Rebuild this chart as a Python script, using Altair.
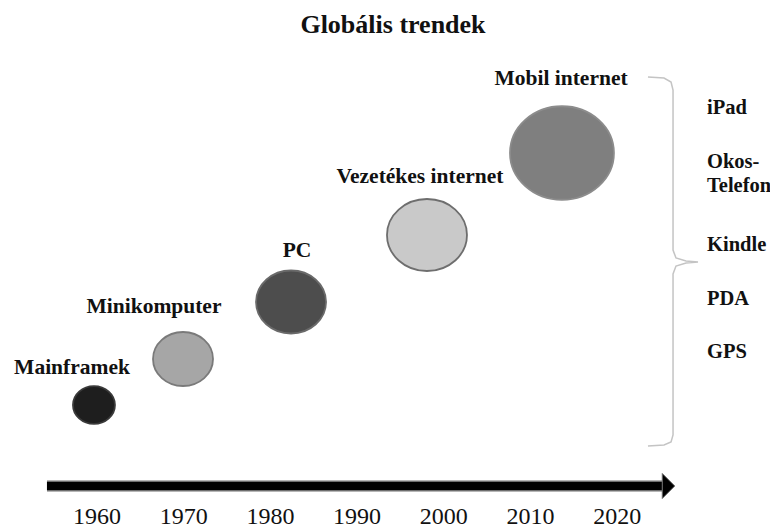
import altair as alt
import pandas as pd

# ---------------- data ----------------
title_text = "Globális trendek"

eras = ["Mainframek", "Minikomputer", "PC", "Vezetékes internet", "Mobil internet"]
era_year = [1959.65, 1969.92, 1982.38, 1998.06, 2013.63]
era_level = [22.46, 31.45, 42.58, 55.66, 71.68]
era_impact = [17.6, 36.0, 49.0, 64.0, 108.0]
label_year = [1957.12, 1966.57, 1983.07, 1997.25, 2013.52]
label_level = [29.69, 41.60, 52.54, 67.00, 86.13]

devices = ["iPad", "Okos-", "Telefon", "Kindle", "PDA", "GPS"]
device_level = [80.47, 69.92, 65.23, 53.71, 43.16, 32.81]
device_year = [2030.36] * len(devices)

years = [1960, 1970, 1980, 1990, 2000, 2010, 2020]
year_label_level = [0.59] * len(years)

arrow_start = [1954.23]
arrow_base = [2025.17]
arrow_head = [2025.92]
arrow_level = [6.64]

brace_year = [2023.55, 2025.40, 2026.21, 2026.44, 2026.44, 2026.78, 2027.94, 2029.32,
              2027.94, 2026.78, 2026.44, 2026.44, 2026.21, 2025.40, 2023.55]
brace_level = [86.52, 86.33, 85.55, 83.98, 52.73, 51.17, 50.59, 50.39,
               50.20, 49.61, 48.05, 16.60, 15.23, 14.65, 14.45]

# ---------------- styles ----------------
fills = ["#1e1e1e", "#a6a6a6", "#4d4d4d", "#c9c9c9", "#7f7f7f"]
strokes = ["#3a3a3a", "#7a7a7a", "#6a6a6a", "#6e6e6e", "#8c8c8c"]
FONT = "Liberation Serif"
ELLIPSE = ("M-1,0C-1,-0.497,-0.552,-0.9,0,-0.9C0.552,-0.9,1,-0.497,1,0"
           "C1,0.497,0.552,0.9,0,0.9C-0.552,0.9,-1,0.497,-1,0Z")
HEAD = "M-0.5,-1L0.5,0L-0.5,1Z"

xs = alt.Scale(domain=[1949.735, 2037.624], nice=False, zero=False)
ys = alt.Scale(domain=[0, 92.1875], nice=False, zero=False)

era_df = pd.DataFrame({"era": eras, "year": era_year, "level": era_level,
                       "impact": era_impact, "ly": label_year, "ll": label_level})
dev_df = pd.DataFrame({"device": devices, "year": device_year, "level": device_level})
yr_df = pd.DataFrame({"label": [str(y) for y in years], "year": years, "level": year_label_level})
arr_df = pd.DataFrame({"x1": arrow_start, "x2": arrow_base, "xh": arrow_head, "level": arrow_level})
br_df = pd.DataFrame({"year": brace_year, "level": brace_level, "i": list(range(len(brace_year)))})

X = lambda f: alt.X(f, type="quantitative", scale=xs, axis=None)
Y = lambda f: alt.Y(f, type="quantitative", scale=ys, axis=None)

circles = alt.Chart(era_df).mark_point(
    shape=ELLIPSE, filled=True, opacity=1, fillOpacity=1, strokeOpacity=1, strokeWidth=1.8
).encode(
    x=X("year"), y=Y("level"),
    fill=alt.Fill("era:N", scale=alt.Scale(domain=eras, range=fills), legend=None),
    stroke=alt.Stroke("era:N", scale=alt.Scale(domain=eras, range=strokes), legend=None),
    size=alt.Size("impact:Q", scale=alt.Scale(domain=[0, 100], range=[0, 10000]), legend=None),
)

era_labels = alt.Chart(era_df).mark_text(
    font=FONT, fontWeight="bold", fontSize=21.5, align="center", baseline="middle", color="#111"
).encode(x=X("ly"), y=Y("ll"), text="era:N")

dev_labels = alt.Chart(dev_df).mark_text(
    font=FONT, fontWeight="bold", fontSize=20.5, align="left", baseline="middle", color="#111"
).encode(x=X("year"), y=Y("level"), text="device:N")

year_labels = alt.Chart(yr_df).mark_text(
    font=FONT, fontSize=24, align="center", baseline="middle", color="#111"
).encode(x=X("year"), y=Y("level"), text="label:N")

shaft_border = alt.Chart(arr_df).mark_rule(color="#6e6e6e", strokeWidth=11).encode(
    x=X("x1"), x2="x2", y=Y("level"))
shaft = alt.Chart(arr_df).mark_rule(color="#000000", strokeWidth=8).encode(
    x=X("x1"), x2="x2", y=Y("level"))
head = alt.Chart(arr_df).mark_point(
    shape=HEAD, filled=True, size=625, color="#000000", stroke="#6e6e6e",
    strokeWidth=1, opacity=1
).encode(x=X("xh"), y=Y("level"))

brace = alt.Chart(br_df).mark_line(color="#c4c4c4", strokeWidth=1.5).encode(
    x=X("year"), y=Y("level"), order="i:Q")

chart = alt.layer(
    brace, shaft_border, shaft, head, circles, era_labels, dev_labels, year_labels
).properties(
    width=762, height=472,
    title=alt.TitleParams(title_text, font=FONT, fontSize=26, fontWeight="bold",
                          anchor="middle", frame="group", baseline="bottom",
                          offset=8.5, dx=4, dy=24, color="#111"),
    autosize=alt.AutoSizeParams(type="none"),
    padding={"left": 0, "right": 0, "top": 40, "bottom": 8},
).configure_view(stroke=None)

chart.save("out.html", embed_options={"renderer": "svg", "actions": False})
